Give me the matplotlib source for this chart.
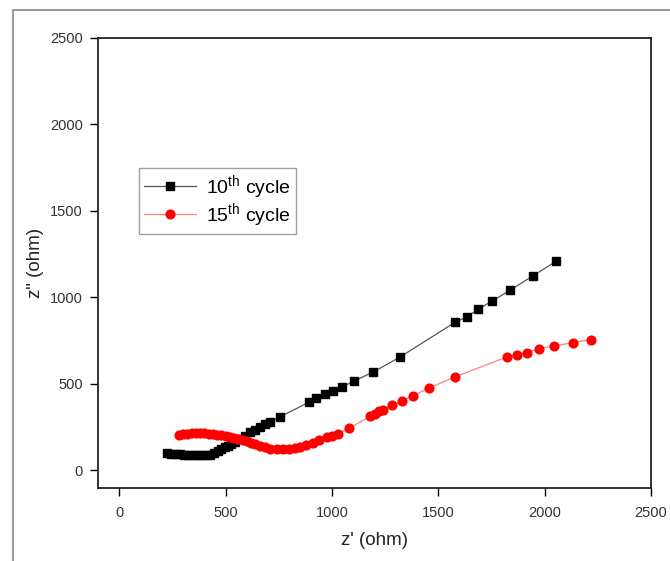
import matplotlib
matplotlib.use('Agg')
from matplotlib import pyplot as plt
from matplotlib.patches import Rectangle

plt.rcParams['font.family'] = ['Liberation Sans', 'DejaVu Sans']
plt.rcParams['mathtext.default'] = 'regular'

# 10th cycle (black squares)
z_re_10 = [225, 245, 265, 285, 305, 325, 345, 365, 385, 405, 425, 445, 465, 480,
           495, 510, 525, 545, 565, 590, 615, 640, 662, 685, 710, 755, 890, 925,
           965, 1005, 1045, 1105, 1195, 1320, 1580, 1633, 1687, 1753, 1836, 1943, 2053]
z_im_10 = [97, 95, 93, 91, 89, 88, 86, 85, 85, 86, 90, 100, 112, 122,
           132, 142, 150, 165, 180, 200, 218, 232, 250, 268, 280, 308, 392, 416,
           438, 458, 479, 516, 568, 654, 856, 885, 930, 978, 1039, 1122, 1207]

# 15th cycle (red circles)
z_re_15 = [280, 300, 320, 340, 360, 380, 400, 420, 440, 460, 480, 500, 520, 540,
           560, 580, 600, 620, 640, 660, 685, 710, 740, 770, 800, 825, 850, 880,
           910, 940, 975, 1000, 1030, 1080, 1180, 1200, 1220, 1240, 1280, 1327,
           1379, 1457, 1578, 1821, 1868, 1918, 1974, 2045, 2131, 2216]
z_im_15 = [203, 208, 212, 214, 215, 215, 214, 212, 208, 205, 201, 196, 191, 186,
           180, 174, 166, 158, 150, 141, 132, 125, 121, 120, 121, 127, 135, 147,
           158, 172, 189, 200, 212, 241, 312, 327, 340, 350, 375, 398,
           429, 475, 539, 654, 664, 680, 703, 718, 737, 755]

ticks = [0, 500, 1000, 1500, 2000, 2500]

fig = plt.figure(figsize=(6.7, 5.61), dpi=100)
ax = fig.add_axes([0.1463, 0.131, 0.8254, 0.802])

ax.plot(z_re_10, z_im_10, color='#555555', lw=0.9, marker='s', ms=5.2,
        mfc='black', mec='black', label='10$^{th}$ cycle')
ax.plot(z_re_15, z_im_15, color='#ff8080', lw=0.9, marker='o', ms=6.3,
        mfc='red', mec='red', label='15$^{th}$ cycle')

ax.set_xlim(-100, 2500)
ax.set_ylim(-100, 2500)
ax.set_xticks(ticks)
ax.set_yticks(ticks)
ax.tick_params(direction='out', length=6, width=1, labelsize=10.5,
               labelcolor='#333333', pad=5)
ax.tick_params(axis='x', pad=7)
for s in ax.spines.values():
    s.set_linewidth(1.3)
    s.set_color('#222222')

ax.set_xlabel("z' (ohm)", fontsize=13.5, color='#222222', labelpad=9)
ax.set_ylabel('z" (ohm)', fontsize=13.5, color='#222222', labelpad=4)

leg = ax.legend(loc='upper left', bbox_to_anchor=(0.074, 0.71), fontsize=14,
                borderaxespad=0, frameon=True, fancybox=False,
                edgecolor='#888888', handlelength=2.7, borderpad=0.25,
                labelspacing=0.0, handletextpad=0.5)
leg.get_frame().set_linewidth(1.0)

fig.patches.append(Rectangle((13 / 670, -0.1), 1.2, 1 - 10 / 561 + 0.1,
                             transform=fig.transFigure, fill=False,
                             edgecolor='#888888', lw=1.2))

fig.savefig('out.png', dpi=100)
